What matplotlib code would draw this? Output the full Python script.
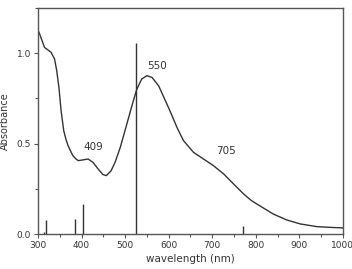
import matplotlib
matplotlib.use("Agg")
import matplotlib.pyplot as plt
from matplotlib.ticker import MultipleLocator

wavelength = [300, 304, 308, 315, 323, 330, 338, 343, 348, 353, 359, 364, 369, 375,
              380, 386, 392, 403, 415, 426, 438, 449, 457, 468, 477, 489, 504, 519,
              527, 538, 550, 562, 577, 596, 606, 619, 634, 657, 680, 703, 726, 749,
              772, 790, 810, 840, 871, 902, 940, 978, 1000]
absorbance = [1.128, 1.105, 1.078, 1.032, 1.018, 1.005, 0.968, 0.903, 0.811, 0.682,
              0.572, 0.525, 0.489, 0.458, 0.434, 0.418, 0.406, 0.41, 0.415, 0.397,
              0.36, 0.329, 0.323, 0.351, 0.397, 0.48, 0.609, 0.738, 0.802, 0.857,
              0.876, 0.866, 0.82, 0.719, 0.665, 0.59, 0.517, 0.452, 0.415, 0.378,
              0.333, 0.277, 0.222, 0.185, 0.155, 0.111, 0.078, 0.056, 0.041, 0.036,
              0.034]

stick_wl = [314, 319, 386, 404, 526, 771]
stick_h = [0.01, 0.075, 0.084, 0.167, 1.056, 0.047]

peak_labels = ["409", "550", "705"]
peak_x = [426, 573, 732]
peak_y = [0.48, 0.93, 0.46]

xticks = [300, 400, 500, 600, 700, 800, 900, 1000]
yticks = [0.0, 0.5, 1.0]

fig = plt.figure(figsize=(3.52, 2.69), dpi=100)
ax = fig.add_axes([0.108, 0.13, 0.866, 0.84])

axc = "#555555"
ax.plot(wavelength, absorbance, color="#333333", lw=1.0, solid_joinstyle="round")
ax.vlines(stick_wl, 0, stick_h, color="#333333", lw=1.0)

for t, x, y in zip(peak_labels, peak_x, peak_y):
    ax.text(x, y, t, ha="center", va="center", fontsize=7.5, color="#333333")

ax.set_xlim(300, 1000)
ax.set_ylim(0, 1.25)
ax.set_xticks(xticks)
ax.set_yticks(yticks)
ax.set_yticklabels([f"{v:.1f}" for v in yticks])
ax.xaxis.set_minor_locator(MultipleLocator(50))
ax.yaxis.set_minor_locator(MultipleLocator(0.25))

for s in ax.spines.values():
    s.set_color(axc)
    s.set_linewidth(1.0)
ax.tick_params(which="major", direction="out", length=3, width=0.8, colors=axc,
               labelsize=6.5, labelcolor="#333333", pad=2)
ax.tick_params(which="minor", direction="out", length=2, width=0.8, colors=axc)

ax.set_xlabel("wavelength (nm)", fontsize=7.5, color="#333333", labelpad=3)
ax.set_ylabel("Absorbance", fontsize=7, color="#333333", labelpad=5)

fig.savefig("out.png", dpi=100)
